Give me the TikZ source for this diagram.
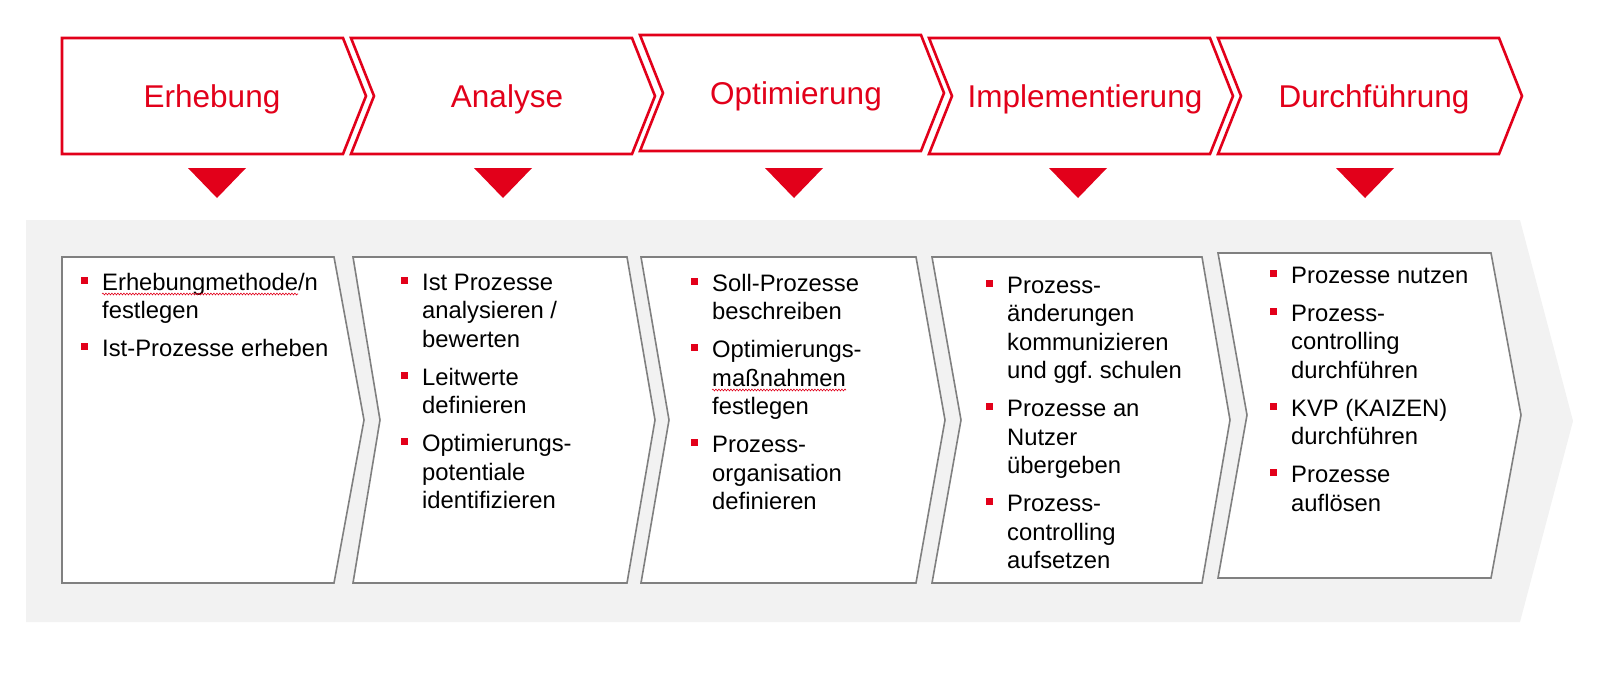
\documentclass[tikz,border=0pt]{standalone}
\usepackage{fontspec}
\setmainfont{Liberation Sans}
\usepackage{tikz}
\usetikzlibrary{calc,decorations.pathmorphing,positioning}
\definecolor{pred}{RGB}{226,0,26}
\definecolor{pgray}{RGB}{128,128,128}
\definecolor{pband}{RGB}{242,242,242}
\newcommand{\itm}{\par\noindent\hangindent=21pt\hangafter=1\makebox[21pt][l]{\textcolor{pred}{\rule[6.5pt]{7pt}{7pt}}}}
\newcommand{\tasklist}[1]{\begin{minipage}[t]{270pt}\setlength{\parskip}{9.5pt}#1\par\end{minipage}}
\tikzset{
    chev/.style = {draw=pred, line width=2.6pt, fill=white, line join=miter},
    panel/.style = {draw=pgray, line width=1.6pt, fill=white},
    band/.style = {fill=pband},
    tri/.style = {fill=pred},
    ttl/.style = {text=pred, inner sep=0, anchor=base, font=\fontsize{31.5}{36}\selectfont},
    lst/.style = {inner sep=0, anchor=base west,
                  font=\fontsize{23.8}{28.5}\selectfont\frenchspacing},
    squig/.style = {draw=pred, line width=0.6pt, decorate,
                    decoration={snake, amplitude=0.9pt, segment length=3pt}},
}

\begin{document}
\begin{tikzpicture}[x=1pt, y=-1pt]
\useasboundingbox (0,0) rectangle (1619,673);

    % grey band
    \path[band] (26,220) -- (1520,220) -- (1573,421) -- (1520,622) -- (26,622) -- cycle;

    % content panels
    \path[panel] (62,257) -- (334,257) -- (364,420) -- (334,583) -- (62,583) -- cycle;
    \path[panel] (353,257) -- (627,257) -- (655,420) -- (627,583) -- (353,583) -- (380,420) -- cycle;
    \path[panel] (641,257) -- (916,257) -- (945,420) -- (916,583) -- (641,583) -- (669,420) -- cycle;
    \path[panel] (932,257) -- (1202,257) -- (1230,420) -- (1202,583) -- (932,583) -- (961,420) -- cycle;
    \path[panel] (1218,253) -- (1491,253) -- (1521,415) -- (1491,578) -- (1218,578) -- (1247,415) -- cycle;

    % phase chevrons
    \path[chev] (62,38) -- (343,38) -- (366,96) -- (343,154) -- (62,154) -- cycle;
    \path[chev] (351,38) -- (632,38) -- (655,96) -- (632,154) -- (351,154) -- (374,96) -- cycle;
    \path[chev] (640,35) -- (921,35) -- (944,93) -- (921,151) -- (640,151) -- (663,93) -- cycle;
    \path[chev] (929,38) -- (1210,38) -- (1233,96) -- (1210,154) -- (929,154) -- (952,96) -- cycle;
    \path[chev] (1218,38) -- (1499,38) -- (1522,96) -- (1499,154) -- (1218,154) -- (1241,96) -- cycle;

    % red pointers
    \path[tri] (188,168) -- (246,168) -- (217,198) -- cycle;
    \path[tri] (474,168) -- (532,168) -- (503,198) -- cycle;
    \path[tri] (765,168) -- (823,168) -- (794,198) -- cycle;
    \path[tri] (1049,168) -- (1107,168) -- (1078,198) -- cycle;
    \path[tri] (1336,168) -- (1394,168) -- (1365,198) -- cycle;

    % phase titles
    \node (erh) at (212,107) [ttl] {Erhebung};
    \node (ana) at (507,107) [ttl] {Analyse};
    \node (opt) at (796,104) [ttl] {Optimierung};
    \node (imp) at (1085,107) [ttl] {Implementierung};
    \node (dur) at (1374,107) [ttl] {Durchführung};

    % task lists
    \node (l1) at (81,290) [lst] {\tasklist{\itm Erhebungmethode/n\newline festlegen
        \itm Ist-Prozesse erheben}};
    \node (l2) at (401,290) [lst] {\tasklist{\itm Ist Prozesse\newline analysieren /\newline bewerten
        \itm Leitwerte\newline definieren
        \itm Optimierungs-\newline potentiale\newline identifizieren}};
    \node (l3) at (691,291) [lst] {\tasklist{\itm Soll-Prozesse\newline beschreiben
        \itm Optimierungs-\newline maßnahmen\newline festlegen
        \itm Prozess-\newline organisation\newline definieren}};
    \node (l4) at (986,293) [lst] {\tasklist{\itm Prozess-\newline änderungen\newline kommunizieren\newline und ggf. schulen
        \itm Prozesse an\newline Nutzer\newline übergeben
        \itm Prozess-\newline controlling\newline aufsetzen}};
    \node (l5) at (1270,283) [lst] {\tasklist{\itm Prozesse nutzen
        \itm Prozess-\newline controlling\newline durchführen
        \itm KVP (KAIZEN)\newline durchführen
        \itm Prozesse\newline auflösen}};

    % spelling marks
    \draw[squig] (102,294) -- (298,294);
    \draw[squig] (712,390) -- (846,390);

\end{tikzpicture}
\end{document}
